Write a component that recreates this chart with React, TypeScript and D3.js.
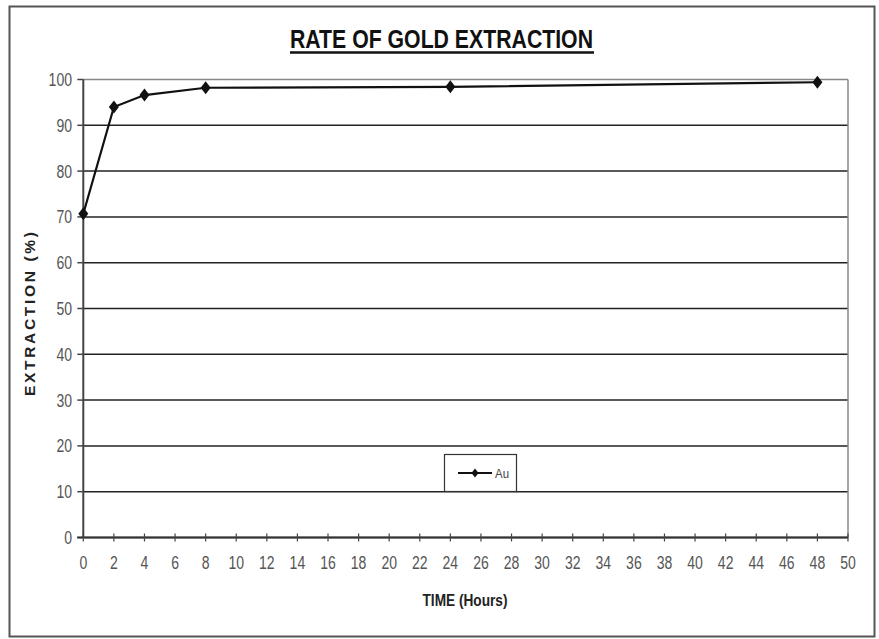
import React from "react";
import * as d3 from "d3";

const hours = [0, 2, 4, 8, 24, 48];
const extraction = [70.7, 94.0, 96.6, 98.2, 98.4, 99.4];
const xTicks = d3.range(0, 51, 2);
const yTicks = d3.range(0, 101, 10);
const seriesName = "Au";
const title = "RATE OF GOLD EXTRACTION";
const xTitle = "TIME (Hours)";
const yTitle = "EXTRACTION (%)";

const W = 879;
const H = 639;
const sans = "'Liberation Sans', Arial, sans-serif";
const DIGIT = 7.8;

export default function App() {
  const x = d3.scaleLinear().domain([0, 50]).range([83.3, 848]);
  const y = d3.scaleLinear().domain([0, 100]).range([537.5, 79.5]);
  const line = d3
    .line<number>()
    .x((_, i) => x(hours[i]))
    .y((d) => y(d));
  const diamond = (cx: number, cy: number, w = 5, h = 6.5) =>
    `M${cx},${cy - h}L${cx + w},${cy}L${cx},${cy + h}L${cx - w},${cy}Z`;

  return (
    <svg
      width={W}
      height={H}
      style={{ position: "absolute", left: 0, top: 0, background: "#fff" }}
    >
      <rect x={0} y={0} width={W} height={H} fill="#fff" />
      {/* outer frame */}
      <rect x={9.5} y={6.5} width={865} height={630} fill="none" stroke="#555" strokeWidth={2} />

      {/* title */}
      <text
        x={441.5}
        y={48}
        textAnchor="middle"
        fontFamily={sans}
        fontWeight="bold"
        fontSize={25}
        fill="#111"
        textLength={303}
        lengthAdjust="spacingAndGlyphs"
      >
        {title}
      </text>
      <line x1={290} x2={594} y1={52.5} y2={52.5} stroke="#111" strokeWidth={2.5} />

      {/* gridlines */}
      {yTicks.map((t) => (
        <line
          key={"g" + t}
          x1={x(0)}
          x2={x(50)}
          y1={y(t)}
          y2={y(t)}
          stroke={t === 100 ? "#888" : "#222"}
          strokeWidth={1.5}
        />
      ))}
      {/* plot right border */}
      <line x1={x(50)} x2={x(50)} y1={y(100)} y2={y(0)} stroke="#888" strokeWidth={1.5} />
      {/* y axis */}
      <line x1={x(0)} x2={x(0)} y1={y(100)} y2={y(0)} stroke="#444" strokeWidth={2} />
      {yTicks.map((t) => (
        <g key={"yt" + t}>
          <line x1={x(0) - 6} x2={x(0)} y1={y(t)} y2={y(t)} stroke="#444" strokeWidth={1.5} />
          <text
            x={72}
            y={y(t) + 6.5}
            textAnchor="end"
            fontFamily={sans}
            fontSize={18}
            fill="#555"
            textLength={String(t).length * DIGIT}
            lengthAdjust="spacingAndGlyphs"
          >
            {t}
          </text>
        </g>
      ))}
      {/* x axis */}
      <line x1={x(0) - 6} x2={x(50)} y1={y(0)} y2={y(0)} stroke="#333" strokeWidth={2} />
      {xTicks.map((t) => (
        <g key={"xt" + t}>
          <line x1={x(t)} x2={x(t)} y1={y(0) - 4} y2={y(0) + 4} stroke="#444" strokeWidth={1.2} />
          <text
            x={x(t)}
            y={569}
            textAnchor="middle"
            fontFamily={sans}
            fontSize={18}
            fill="#555"
            textLength={String(t).length * DIGIT}
            lengthAdjust="spacingAndGlyphs"
          >
            {t}
          </text>
        </g>
      ))}

      {/* axis titles */}
      <text
        x={465}
        y={606}
        textAnchor="middle"
        fontFamily={sans}
        fontWeight="bold"
        fontSize={16}
        fill="#222"
        textLength={85}
        lengthAdjust="spacingAndGlyphs"
      >
        {xTitle}
      </text>
      <text
        transform={`translate(34.5,${314}) rotate(-90)`}
        textAnchor="middle"
        fontFamily={sans}
        fontWeight="bold"
        fontSize={15.5}
        fill="#222"
        textLength={164}
        lengthAdjust="spacing"
      >
        {yTitle}
      </text>

      {/* series */}
      <path d={line(extraction) || ""} fill="none" stroke="#111" strokeWidth={2.2} />
      {extraction.map((v, i) => (
        <path key={"m" + i} d={diamond(x(hours[i]), y(v))} fill="#111" />
      ))}

      {/* legend */}
      <rect x={444.5} y={454.5} width={72} height={37} fill="#fff" stroke="#333" strokeWidth={1.2} />
      <line x1={458} x2={492} y1={473} y2={473} stroke="#111" strokeWidth={2} />
      <path d={diamond(475, 473, 3.5, 4.5)} fill="#111" />
      <text
        x={495}
        y={478}
        fontFamily={sans}
        fontSize={13}
        fill="#444"
        textLength={14}
        lengthAdjust="spacingAndGlyphs"
      >
        {seriesName}
      </text>
    </svg>
  );
}
